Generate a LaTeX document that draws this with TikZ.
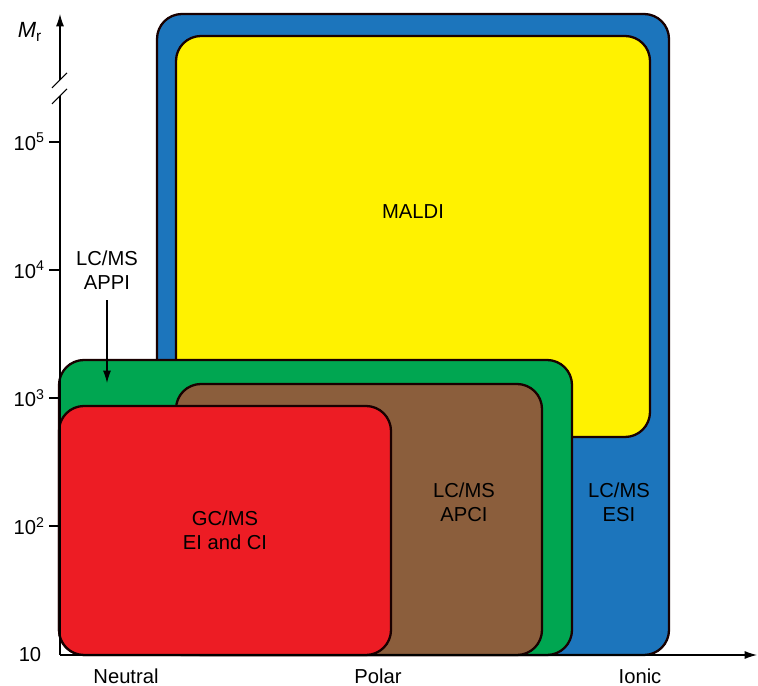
\documentclass[tikz,border=0pt]{standalone}
\usepackage{fontspec}
\setmainfont{Liberation Sans}
\usetikzlibrary{arrows.meta}
\begin{document}
\begin{tikzpicture}[>={Latex[length=7pt,width=4.5pt]}, line join=round,
    box/.style={draw=outline, line width=1.3pt, rounded corners=0.5cm},
    lbl/.style={align=center, font=\fontsize{11.5}{13.5}\selectfont, inner sep=1pt}]

    % Colores
    \colorlet{outline}{black!90!red}
    \definecolor{esiblue}{HTML}{1C75BC}
    \definecolor{maldiyellow}{HTML}{FFF200}
    \definecolor{appigreen}{HTML}{00A651}
    \definecolor{apcibrown}{HTML}{8B5E3C}
    \definecolor{gcred}{HTML}{ED1C24}

    \useasboundingbox (-1.2,-0.62) rectangle (13.96,13.1);

    % 1. Regiones (de atras hacia adelante)
    \draw[box, fill=esiblue] (1.94,0) rectangle (12.18,12.82);
    \draw[box, fill=maldiyellow] (2.32,4.36) rectangle (11.8,12.38);
    \draw[box, fill=appigreen] (-0.02,0) rectangle (10.24,5.9);
    \draw[box, fill=apcibrown] (2.32,0) rectangle (9.64,5.42);
    \draw[box, fill=gcred] (-0.02,0) rectangle (6.62,4.98);

    % 2. Ejes
    \draw[->, line width=0.6pt] (0,0) -- (13.94,0);
    \draw[line width=0.6pt] (0,0) -- (0,11.18);
    \draw[->, line width=0.6pt] (0,11.5) -- (0,12.82);
    % Corte del eje
    \draw[line width=0.6pt] (-0.16,11.02) -- (0.14,11.32);
    \draw[line width=0.6pt] (-0.16,11.34) -- (0.14,11.64);

    % Marcas del eje vertical
    \foreach \e/\y in {5/10.26, 4/7.7, 3/5.14, 2/2.58} {
        \draw[line width=0.6pt] (-0.22,\y) -- (0,\y);
        \node[lbl, left] (tick\e) at (-0.26,\y) {10\textsuperscript{\e}};
    }
    \node[lbl] (tick1) at (-0.6,0) {10};
    \node[lbl, font=\fontsize{12.5}{14}\selectfont] (mr) at (-0.6,12.46) {\textit{M}\textsubscript{r}};

    % 3. Etiquetas
    \node[lbl] (maldi) at (7.06,8.86) {MALDI};
    \node[lbl] (esi) at (11.18,3.06) {LC/MS\\ESI};
    \node[lbl] (apci) at (8.08,3.06) {LC/MS\\APCI};
    \node[lbl] (gcms) at (3.3,2.5) {GC/MS\\EI and CI};
    \node[lbl] (appi) at (0.94,7.7) {LC/MS\\APPI};
    \coordinate (appitip) at (0.94,5.44);
    \draw[->, line width=0.6pt, shorten <=5pt] (appi) -- (appitip);

    % Eje horizontal
    \node[lbl] (neutral) at (1.32,-0.42) {Neutral};
    \node[lbl] (polar) at (6.36,-0.42) {Polar};
    \node[lbl] (ionic) at (11.6,-0.42) {Ionic};

\end{tikzpicture}
\end{document}
